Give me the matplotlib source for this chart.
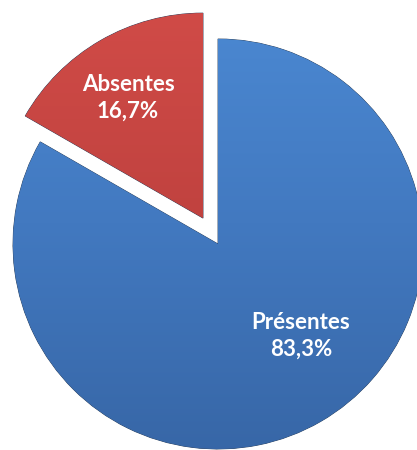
import matplotlib
matplotlib.use("Agg")
import matplotlib.pyplot as plt
import numpy as np
from matplotlib.colors import LinearSegmentedColormap

# data
labels = ["Présentes", "Absentes"]
values = [83.3, 16.7]
explode = [0.0, 0.146]
base_colors = ["#4279C0", "#C0423F"]
grad_colors = [["#3766A6", "#4279C0", "#4C8AD4"],
               ["#A8302D", "#C0423F", "#D24C48"]]

W, H, R = 417, 450, 205.0
cx, cy = 218, 244  # pie centre, pixels from top-left

fig = plt.figure(figsize=(W / 100, H / 100), dpi=100)
ax = fig.add_axes([0, 0, 1, 1])

wedges, _ = ax.pie(values, explode=explode, colors=base_colors,
                   startangle=90, counterclock=False,
                   wedgeprops=dict(edgecolor="#2a3f5a", linewidth=0.6))

# vertical gradient clipped to each wedge
for w, cols in zip(wedges, grad_colors):
    cmap = LinearSegmentedColormap.from_list("g", cols)
    grad = np.linspace(0, 1, 256).reshape(-1, 1)
    im = ax.imshow(grad, cmap=cmap, origin="lower", aspect="auto",
                   extent=[-1.3, 1.3, -1.05, 1.25], zorder=w.get_zorder() + 0.1)
    im.set_clip_path(w)

ax.set_xlim(-cx / R, (W - cx) / R)
ax.set_ylim(-(H - cy) / R, cy / R)
ax.set_aspect("equal")
ax.axis("off")

# labels
font = dict(family=["Lato", "DejaVu Sans"], fontweight="bold", fontsize=16,
            color="white", ha="center", va="center", zorder=10,
            linespacing=1.35)
pos = [(0.405, -0.449), (-0.439, 0.712)]
for (x, y), lab, v in zip(pos, labels, values):
    ax.text(x, y, f"{lab}\n{v:.1f}%".replace(".", ","), **font)

fig.savefig("out.png", dpi=100, facecolor="white")
